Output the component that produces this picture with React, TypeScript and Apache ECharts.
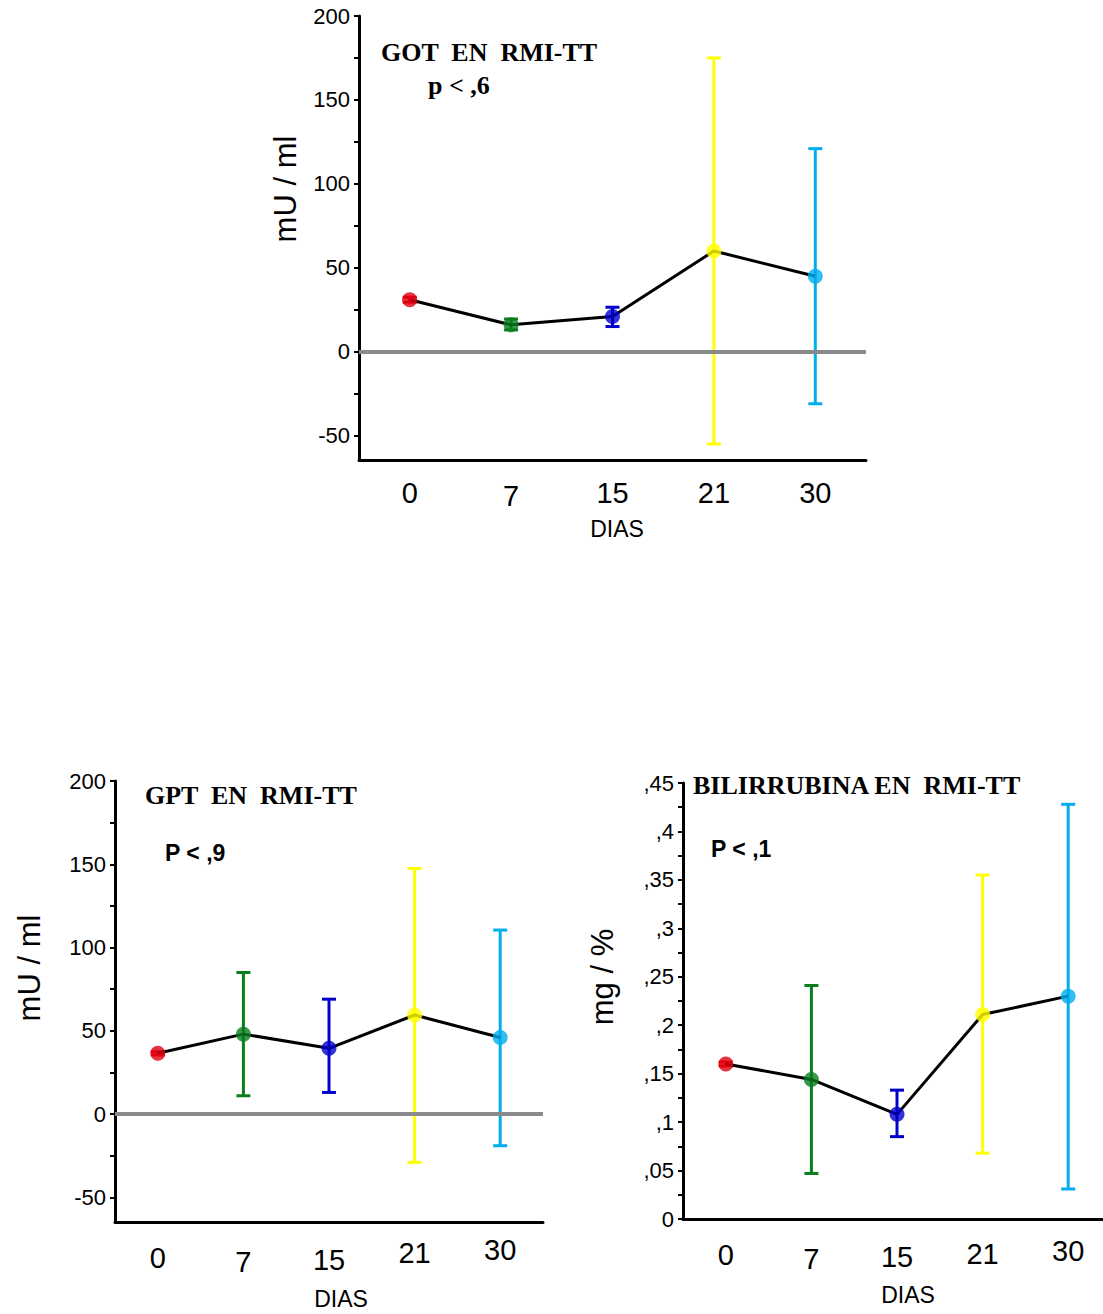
import React, { useEffect, useRef } from "react";
import * as echarts from "echarts";

// ---- data ----
const days = ["0", "7", "15", "21", "30"];
const pointColors = ["#e00010", "#0a7d1e", "#0000cc", "#ffff00", "#00aeef"];

const gotMean = [31, 16, 21, 60, 45];
const gotLow = [29.5, 13, 15, -55, -31];
const gotHigh = [32.5, 19.5, 26.5, 175, 121];

const gptMean = [36.5, 48, 39.5, 59.5, 46];
const gptLow = [35.5, 11, 13, -29, -19];
const gptHigh = [37.5, 85, 69, 147.5, 110.5];

const bilMean = [0.16, 0.144, 0.108, 0.211, 0.23];
const bilLow = [0.158, 0.047, 0.085, 0.068, 0.031];
const bilHigh = [0.162, 0.241, 0.133, 0.355, 0.428];

const muTicks = [-50, -25, 0, 25, 50, 75, 100, 125, 150, 175, 200];
const muLabels = [-50, 0, 50, 100, 150, 200];
const bilTicks = [0, 0.025, 0.05, 0.075, 0.1, 0.125, 0.15, 0.175, 0.2, 0.225, 0.25, 0.275, 0.3, 0.325, 0.35, 0.375, 0.4, 0.425, 0.45];
const bilLabels = [0, 0.05, 0.1, 0.15, 0.2, 0.25, 0.3, 0.35, 0.4, 0.45];

const SANS = "Liberation Sans, Arial, sans-serif";
const SERIF = "Liberation Serif, Times New Roman, serif";

function xAxisCfg(gridIndex: number, pads: number[], margin: number) {
  return {
    type: "category",
    gridIndex,
    data: days.map((d, i) => ({ value: d, textStyle: { padding: [pads[i], 0, 0, 0] } })),
    boundaryGap: true,
    axisLine: { onZero: false, lineStyle: { color: "#000", width: 3 } },
    axisTick: { alignWithLabel: true, length: 8, lineStyle: { color: "#000", width: 3 } },
    axisLabel: { fontSize: 29, color: "#000", margin, fontFamily: SANS },
    splitLine: { show: false },
  };
}

function yAxisCfg(gridIndex: number, min: number, max: number, ticks: number[], labels: number[], fmt?: (v: number) => string) {
  return {
    type: "value",
    gridIndex,
    min,
    max,
    axisLine: { show: true, onZero: false, lineStyle: { color: "#000", width: 3 } },
    axisTick: { show: true, length: 5, customValues: ticks, lineStyle: { color: "#000", width: 2 } },
    axisLabel: {
      customValues: labels,
      fontSize: 22,
      color: "#000",
      margin: 9,
      fontFamily: SANS,
      formatter: fmt ? fmt : (v: number) => String(v),
    },
    splitLine: { show: false },
  };
}

function bilFmt(v: number) {
  if (Math.abs(v) < 1e-9) return "0";
  let s = v.toFixed(3).replace(/0+$/, "");
  s = s.replace(/^0\./, ",");
  return s;
}

function seriesFor(idx: number, mean: number[], low: number[], high: number[], zeroLine: boolean) {
  const out: any[] = [];
  if (zeroLine) {
    out.push({
      type: "line",
      xAxisIndex: idx,
      yAxisIndex: idx,
      data: [],
      z: 1,
      markLine: {
        silent: true,
        symbol: ["none", "none"],
        label: { show: false },
        lineStyle: { color: "#8a8a8a", width: 4, type: "solid" },
        data: [{ yAxis: 0 }],
      },
    });
  }
  out.push({
    type: "custom",
    xAxisIndex: idx,
    yAxisIndex: idx,
    z: 2,
    encode: { x: 0, y: [1, 2] },
    data: days.map((_, i) => [i, low[i], high[i]]),
    renderItem: (params: any, api: any) => {
      const i = api.value(0);
      const lo = api.coord([i, api.value(1)]);
      const hi = api.coord([i, api.value(2)]);
      const c = pointColors[params.dataIndex];
      const w = 7;
      const st = { stroke: c, lineWidth: 3 };
      return {
        type: "group",
        children: [
          { type: "line", shape: { x1: lo[0], y1: lo[1], x2: hi[0], y2: hi[1] }, style: st },
          { type: "line", shape: { x1: lo[0] - w, y1: lo[1], x2: lo[0] + w, y2: lo[1] }, style: st },
          { type: "line", shape: { x1: hi[0] - w, y1: hi[1], x2: hi[0] + w, y2: hi[1] }, style: st },
        ],
      };
    },
  });
  out.push({
    type: "line",
    xAxisIndex: idx,
    yAxisIndex: idx,
    z: 3,
    data: mean,
    showSymbol: false,
    lineStyle: { color: "#000", width: 3 },
  });
  out.push({
    type: "scatter",
    xAxisIndex: idx,
    yAxisIndex: idx,
    z: 4,
    symbolSize: 15,
    data: mean.map((v, i) => ({ value: [i, v], itemStyle: { color: pointColors[i] } })),
  });
  return out;
}

function txt(text: string, x: number, y: number, font: string, size: number, bold: boolean, align = "left") {
  return {
    type: "text",
    x,
    y,
    style: {
      text,
      fontFamily: font,
      fontSize: size,
      fontWeight: bold ? "bold" : "normal",
      fill: "#000",
      align,
      verticalAlign: "middle",
    },
  };
}

function vtxt(text: string, x: number, y: number, size: number) {
  return {
    type: "text",
    x,
    y,
    rotation: Math.PI / 2,
    style: {
      text,
      fontFamily: SANS,
      fontSize: size,
      fill: "#000",
      align: "center",
      verticalAlign: "middle",
    },
  };
}

export default function App() {
  const ref = useRef<HTMLDivElement>(null);
  useEffect(() => {
    if (!ref.current) return;
    const chart = echarts.init(ref.current, undefined, { renderer: "svg" });
    const option: any = {
      animation: false,
      backgroundColor: "#fff",
      grid: [
        { left: 359, top: 16, width: 507, height: 444 },
        { left: 115, top: 781, width: 428, height: 441 },
        { left: 683, top: 783, width: 428, height: 436 },
      ],
      xAxis: [
        xAxisCfg(0, [0, 3, 0, 0, 0], 18),
        xAxisCfg(1, [8, 12, 10, 3, 0], 13),
        xAxisCfg(2, [4, 8, 6, 3, 0], 17),
      ],
      yAxis: [
        yAxisCfg(0, -64.5, 200, muTicks, muLabels),
        yAxisCfg(1, -64.8, 200, muTicks, muLabels),
        yAxisCfg(2, 0, 0.45, bilTicks, bilLabels, bilFmt),
      ],
      series: [
        ...seriesFor(0, gotMean, gotLow, gotHigh, true),
        ...seriesFor(1, gptMean, gptLow, gptHigh, true),
        ...seriesFor(2, bilMean, bilLow, bilHigh, false),
      ],
      graphic: [
        txt("GOT  EN  RMI-TT", 381, 52, SERIF, 26, true),
        txt("p < ,6", 428, 85, SERIF, 26, true),
        txt("GPT  EN  RMI-TT", 145, 795, SERIF, 26, true),
        txt("P < ,9", 165, 853, SANS, 23, true),
        txt("BILIRRUBINA EN  RMI-TT", 693, 785, SERIF, 26, true),
        txt("P < ,1", 711, 849, SANS, 23, true),
        txt("DIAS", 617, 529, SANS, 23, false, "center"),
        txt("DIAS", 341, 1299, SANS, 23, false, "center"),
        txt("DIAS", 908, 1295, SANS, 23, false, "center"),
        vtxt("mU / ml", 285, 189, 31),
        vtxt("mU / ml", 29, 968, 31),
        vtxt("mg / %", 602, 977, 31),
      ],
    };
    chart.setOption(option);
    return () => chart.dispose();
  }, []);
  return (
    <div
      style={{ position: "absolute", left: 0, top: 0, width: 1103, height: 1314, overflow: "hidden" }}
    >
      <div ref={ref} style={{ width: 1120, height: 1314 }} />
    </div>
  );
}
